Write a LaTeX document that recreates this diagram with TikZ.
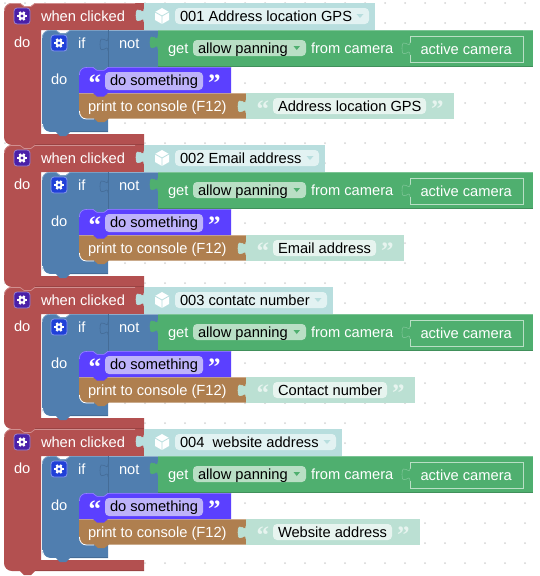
\documentclass[tikz,border=0pt]{standalone}
\usepackage{fontspec}
\setmainfont{Liberation Sans}
\newfontfamily\qfont{Liberation Serif}
\definecolor{cred}{HTML}{B35050}
\definecolor{credl}{HTML}{D18F8F}
\definecolor{credd}{HTML}{9A4343}
\definecolor{cteal}{HTML}{B8DEDE}
\definecolor{ctealf}{HTML}{E2F2F2}
\definecolor{ctealf2}{HTML}{B8DEDE}
\definecolor{cblue}{HTML}{507EAF}
\definecolor{cbluel}{HTML}{8FAECD}
\definecolor{cblued}{HTML}{446C97}
\definecolor{cgreen}{HTML}{4FAF6F}
\definecolor{cgreend}{HTML}{41905B}
\definecolor{cgreenl}{HTML}{B9DFC5}
\definecolor{cgreenm}{HTML}{7CC495}
\definecolor{cpurple}{HTML}{5B40FF}
\definecolor{cpurplel}{HTML}{9A8BFF}
\definecolor{cpurplef}{HTML}{BDB2FA}
\definecolor{cbrown}{HTML}{AF7F4F}
\definecolor{cbrownl}{HTML}{CDAA88}
\definecolor{cstr}{HTML}{BBE0D3}
\definecolor{cstrf}{HTML}{E7F4EF}
\definecolor{cicona}{HTML}{4A20A8}
\definecolor{ciconb}{HTML}{2040D8}
\definecolor{cdot}{HTML}{D4D4D4}
\tikzset{
  lbl/.style={anchor=base west,inner sep=0pt,outer sep=0pt,font=\fontsize{14.67}{16}\selectfont,text=white},
  dlbl/.style={lbl,text=black},
  fieldbox/.style={rounded corners=4pt},
  quot/.style={anchor=base west,inner sep=0pt,outer sep=0pt,font=\qfont\bfseries\fontsize{25}{25}\selectfont},
}
\newcommand{\GearIcon}[3]{%
  \fill[#3,draw=white!45!#3,line width=.8pt,rounded corners=3pt] (#1,#2) rectangle ++(16,16);
  \begin{scope}[shift={(#1+8,#2+8)}]
    \foreach \gang in {0,60,120} \draw[white,line width=2pt] (\gang:4.8) -- (\gang+180:4.8);
    \fill[white] (0,0) circle[radius=3.7pt];
    \fill[#3] (0,0) circle[radius=1.7pt];
  \end{scope}}
\newcommand{\Knob}[4]{% x, ytop, fill, draw
  \path[fill=#3,draw=#4,line width=.6pt] (#1,#2) .. controls (#1,#2+8.5) and (#1-8,#2-6.8) .. (#1-8,#2+6.4)
    .. controls (#1-8,#2+19.5) and (#1,#2+4.2) .. (#1,#2+12.8);}
\newcommand{\Blk}[8]{% idx, off, title, tealright, fieldright, string, stringright, fieldright
\begin{scope}[yshift=-#2pt]
  % hat block
  \fill[cred] (4,11) .. controls (4,6.5) and (7.5,3) .. (12,3) -- (20,3) -- (24,6) -- (31,6) -- (35,3) -- (144,3) -- (144,30) -- (41,30) -- (41,134) -- (144,134) -- (144,145) -- (35,145) -- (31,149) -- (24,149) -- (20,145) -- (12,145) .. controls (7.5,145) and (4,141.5) .. (4,137) -- cycle;
  \draw[credl,line width=.7pt] (4.4,11) .. controls (4.4,6.5) and (7.5,3.4) .. (12,3.4) -- (20,3.4) -- (24,6.4) -- (31,6.4) -- (35,3.4) -- (135,3.4);
  \draw[credd,line width=.8pt] (144,144.6) -- (35,144.6);
  % title value
  \fill[cteal] (144,3) -- (#4,3) -- (#4,30) -- (144,30) -- cycle;
  \Knob{144}{9}{cteal}{cteal}
  \fill[ctealf,fieldbox] (175,8) rectangle (#5,24);
  \fill[white] (162,8) -- (169,12) -- (169,20) -- (162,24) -- (155,20) -- (155,12) -- cycle;
  \draw[cteal,line width=.8pt] (155,12) -- (162,16) -- (169,12) (162,16) -- (162,24);
  \fill[ctealf2] (#5-12.5,14) -- (#5-5.5,14) -- (#5-9,18) -- cycle;
  \GearIcon{14}{8}{cicona}
  \node[lbl] (when#1) at (41,21) {when clicked};
  \node[lbl] (dout#1) at (14,47) {do};
  \node[dlbl] (title#1) at (180,21) {#3};
  % if block
  \fill[cblue] (42,38) .. controls (42,33.5) and (45,30) .. (50,30) -- (56,30) -- (60,33) -- (66,33) -- (70,30) -- (108,30) -- (108,132) -- (70,132) -- (66,136) -- (60,136) -- (56,132) -- (50,132) .. controls (45,132) and (42,128) .. (42,124) -- cycle;
  \draw[cbluel,line width=.6pt] (42.4,38) .. controls (42.4,33.5) and (45,30.4) .. (50,30.4) -- (56,30.4) -- (60,33.4) -- (66,33.4) -- (70,30.4) -- (108,30.4);
  \draw[white,line width=.8pt] (42.5,124) .. controls (42.5,128) and (45,132.4) .. (50,132.4) -- (56,132.4);
  \draw[cblued,line width=.8pt] (70,131.6) -- (108,131.6);
  \fill[cblue] (108,30) rectangle (158,67);
  \draw[cbluel,line width=.6pt] (108,30.4) -- (158,30.4);
  \draw[cblued,line width=.7pt] (108,30) -- (108,67);
  \Knob{108}{38}{cblue}{cblued}
  \draw[cblued,line width=.8pt] (108,67.5) -- (158,67.5);
  \GearIcon{51}{35}{ciconb}
  \node[lbl] (if#1) at (78,48) {if};
  \node[lbl] (not#1) at (119,48) {not};
  \node[lbl] (dinner#1) at (51,84) {do};
  % green
  \fill[cgreen] (158,30) rectangle (533,67);
  \draw[cgreenm,line width=.6pt] (158,30.4) -- (533,30.4);
  \draw[cgreend,line width=1pt] (158,66.6) -- (533,66.6);
  \Knob{158}{36}{cgreen}{cgreen}
  \node[lbl] (get#1) at (168,53) {get};
  \fill[cgreenl,fieldbox] (193,40) rectangle (306,56);
  \fill[cgreen] (293.5,46) -- (300,46) -- (296.75,50) -- cycle;
  \node[dlbl] (allow#1) at (198,53) {allow panning};
  \node[lbl] (from#1) at (311,53) {from camera};
  \draw[cgreenl,line width=.8pt] (410,36) rectangle (523,62);
  \fill[cgreen] (408.5,42.5) rectangle (411,55);
  \Knob{410}{42}{cgreen}{cgreenm}
  \node[lbl] (cam#1) at (420.5,54) {active camera};
  % print
  \fill[cbrown] (79,93) -- (246,93) -- (246,118.5) -- (109,118.5) -- (104.5,122) -- (98,122) -- (94,118.5) -- (86,118.5) .. controls (82,118.5) and (79,115.5) .. (79,111) -- cycle;
  \draw[cbrownl,line width=.6pt] (79,93.4) -- (246,93.4);
  \draw[white,line width=.8pt] (79.4,111) .. controls (79.4,115.5) and (82,118.9) .. (86,118.9) -- (94,118.9);
  \fill[cstr] (246,93) rectangle (#7,119);
  \Knob{246}{100}{cstr}{cstr}
  \node[lbl] (print#1) at (88,111) {print to console (F12)};
  \node[quot,text=cstrf] (qa#1) at (256.5,117) {“};
  \fill[cstrf,fieldbox] (273,98) rectangle (#8,114);
  \node[dlbl] (str#1) at (278,111) {#6};
  \node[quot,text=cstrf] (qb#1) at (#8+5,117) {”};
  % text block
  \fill[cpurple] (79,75) .. controls (79,70) and (82,67) .. (87,67) -- (93,67) -- (97,70) -- (104,70) -- (108,67) -- (231,67) -- (231,93) -- (108,93) -- (104,96.5) -- (97,96.5) -- (93,93) -- (79,93) -- cycle;
  \draw[cpurplel,line width=.6pt] (79.4,75) .. controls (79.4,70) and (82,67.4) .. (87,67.4) -- (93,67.4) -- (97,70.4) -- (104,70.4) -- (108,67.4) -- (231,67.4);
  \node[quot,text=white] (qc#1) at (88.5,91) {“};
  \fill[cpurplef,fieldbox] (105,72) rectangle (203,90);
  \node[dlbl] (ds#1) at (110,85.5) {do something};
  \node[quot,text=white] (qd#1) at (208,91) {”};
\end{scope}}
\begin{document}
\begin{tikzpicture}[x=1pt,y=-1pt]
\useasboundingbox (0,0) rectangle (539,576);
\fill[white] (0,0) rectangle (539,576);
\foreach \dx in {5,25,...,525} \foreach \dy in {3,23,...,563}
  \fill[cdot] (\dx,\dy) circle[radius=1pt];
\Blk{1}{0}{001 Address location GPS}{375}{369}{Address location GPS}{454}{426}
\Blk{2}{142}{002 Email address}{325}{319}{Email address}{404}{376}
\Blk{3}{284}{003 contatc number}{333}{327}{Contact number}{415}{387}
\Blk{4}{426}{004\ \ website address}{342}{336}{Website address}{420}{392}
\end{tikzpicture}
\end{document}
